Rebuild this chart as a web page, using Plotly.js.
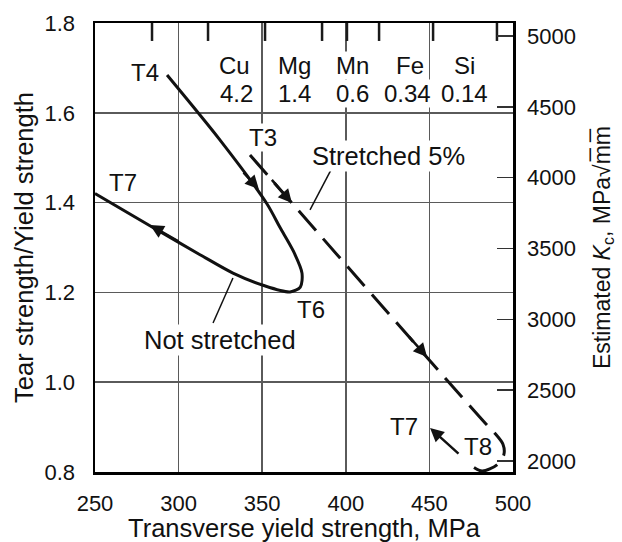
<!DOCTYPE html>
<html>
<head>
<meta charset="utf-8">
<script src="https://cdn.plot.ly/plotly-3.0.1.min.js"></script>
<style>html,body{margin:0;padding:0;background:#fff;}#chart{width:622px;height:542px;}</style>
</head>
<body>
<div id="chart"></div>
<script>
// ---- data ----
// Not stretched path: T4 -> loop (T6) -> T7
const notStretchedX = [293.1, 324.8, 352.9, 360.6, 368.5, 373.8, 372.8, 366.6, 350.5, 332.5, 312.8, 287.7, 250.0];
const notStretchedY = [1.684, 1.539, 1.397, 1.345, 1.293, 1.243, 1.212, 1.201, 1.216, 1.243, 1.284, 1.338, 1.420];
// Stretched 5% path: T3 -> T8
const stretchedX = [342.7, 483.3, 489.0, 494.0, 494.5, 490.4, 481.5, 474.3];
const stretchedY = [1.506, 0.909, 0.887, 0.862, 0.838, 0.816, 0.802, 0.816];
// T8 -> T7 (stretched, aged further)
const t8t7Tail = [468.3, 0.838];
const t8t7Tip = [450.4, 0.898];
// leader lines for labels
const leaderX = [391.7, 378.6, null, 320.6, 332.5];
const leaderY = [1.477, 1.384, null, 1.132, 1.232];
// direction arrows [tailX, tailY, tipX, tipY]
const arrowsNS = [[338.0, 1.470, 348.0, 1.430], [300.8, 1.312, 282.9, 1.350]];
const arrowsST = [[355.0, 1.454, 367.8, 1.399], [437.0, 1.105, 448.6, 1.056]];
// composition table
const elements = ['Cu', 'Mg', 'Mn', 'Fe', 'Si'];
const contents = ['4.2', '1.4', '0.6', '0.34', '0.14'];
const elemX = [333.7, 369.6, 404.3, 438.4, 470.7];
const contX = [334.9, 369.6, 404.3, 436.9, 471.0];
const elemY = 1.705, contY = 1.643;
// temper labels
const temperText = ['T4', 'T7', 'T3', 'T6', 'T7', 'T8'];
const temperX = [279.9, 266.7, 350.5, 379.2, 434.8, 479.1];
const temperY = [1.689, 1.444, 1.544, 1.163, 0.902, 0.856];
const temperBg = [false, false, true, false, false, false];
// axes
const xTicks = [250, 300, 350, 400, 450, 500];
const yTicks = [0.8, 1.0, 1.2, 1.4, 1.6, 1.8];
const kTicks = [2000, 2500, 3000, 3500, 4000, 4500, 5000];
const topTicks = [284.1, 317.6, 351.7, 385.8, 400.7, 419.9, 452.2, 490.4];
const topTickTop = 1.8, topTickBottom = 1.76;

const FONT = 'Liberation Sans, Arial, Helvetica, sans-serif';
const INK = '#111';

// short tick marks hanging from the top frame, built from topTicks
const topTickX = [], topTickY = [];
topTicks.forEach(v => { topTickX.push(v, v, null); topTickY.push(topTickTop, topTickBottom, null); });

const traces = [
  {x: notStretchedX, y: notStretchedY, mode: 'lines', line: {color: INK, width: 3, shape: 'spline', smoothing: 0.8}, hoverinfo: 'skip'},
  {x: stretchedX, y: stretchedY, mode: 'lines', line: {color: INK, width: 3, dash: '26px,11px', shape: 'spline', smoothing: 0.8}, hoverinfo: 'skip'},
  {x: leaderX, y: leaderY, mode: 'lines', line: {color: INK, width: 1.5}, hoverinfo: 'skip', connectgaps: false},
  {x: topTickX, y: topTickY, mode: 'lines', line: {color: '#1a1a1a', width: 2.5}, hoverinfo: 'skip', connectgaps: false},
  {x: [null], y: [null], yaxis: 'y2', mode: 'lines', hoverinfo: 'skip'}
];

const annotations = [];
const tblFont = {family: FONT, size: 24, color: INK};
const lblFont = {family: FONT, size: 24, color: INK};
const curveFont = {family: FONT, size: 25.5, color: INK};
elements.forEach((e, i) => {
  annotations.push({x: elemX[i], y: elemY, xref: 'x', yref: 'y', text: e, showarrow: false, font: tblFont, bgcolor: '#fff', borderpad: 0});
  annotations.push({x: contX[i], y: contY, xref: 'x', yref: 'y', text: contents[i], showarrow: false, font: tblFont, bgcolor: '#fff', borderpad: 0});
});
temperText.forEach((t, i) => {
  const a = {x: temperX[i], y: temperY[i], xref: 'x', yref: 'y', text: t, showarrow: false, font: lblFont, borderpad: 0};
  if (temperBg[i]) a.bgcolor = '#fff';
  annotations.push(a);
});
annotations.push({x: 425.8, y: 1.504, xref: 'x', yref: 'y', text: 'Stretched 5%', showarrow: false, font: curveFont, bgcolor: '#fff', borderpad: 1});
annotations.push({x: 324.8, y: 1.094, xref: 'x', yref: 'y', text: 'Not stretched', showarrow: false, font: curveFont, bgcolor: '#fff', borderpad: 1});
arrowsNS.concat(arrowsST).forEach(a => {
  annotations.push({x: a[2], y: a[3], ax: a[0], ay: a[1], xref: 'x', yref: 'y', axref: 'x', ayref: 'y', text: '', showarrow: true, arrowhead: 2, arrowsize: 1.1, arrowwidth: 2.5, arrowcolor: INK});
});
annotations.push({x: t8t7Tip[0], y: t8t7Tip[1], ax: t8t7Tail[0], ay: t8t7Tail[1], xref: 'x', yref: 'y', axref: 'x', ayref: 'y', text: '', showarrow: true, arrowhead: 2, arrowsize: 1.1, arrowwidth: 2.5, arrowcolor: INK});

const layout = {
  width: 622, height: 542,
  margin: {l: 95, r: 109, t: 23, b: 70},
  paper_bgcolor: '#fff', plot_bgcolor: '#fff',
  showlegend: false,
  font: {family: FONT, color: INK},
  xaxis: {
    range: [250, 500], tickvals: xTicks, ticktext: xTicks.map(String),
    showgrid: true, gridcolor: '#5a5a5a', gridwidth: 1.5, zeroline: false,
    showline: true, linecolor: '#000', linewidth: 2.5, mirror: true,
    ticks: '', ticklabelstandoff: 10, tickfont: {size: 22, family: FONT, color: INK},
    title: {text: 'Transverse yield strength, MPa', font: {size: 25.5, family: FONT, color: INK}, standoff: 6}
  },
  yaxis: {
    range: [0.8, 1.8], tickvals: yTicks, ticktext: yTicks.map(v => v.toFixed(1)),
    showgrid: true, gridcolor: '#5a5a5a', gridwidth: 1.5, zeroline: false,
    showline: true, linecolor: '#000', linewidth: 2.5, mirror: true,
    ticks: '', ticklabelstandoff: 13, tickfont: {size: 22, family: FONT, color: INK},
    title: {text: 'Tear strength/Yield strength', font: {size: 25.5, family: FONT, color: INK}, standoff: 4}
  },
  yaxis2: {
    overlaying: 'y', side: 'right', anchor: 'x', range: [1922, 5092],
    tickvals: kTicks, ticktext: kTicks.map(String),
    ticks: 'inside', ticklen: 16, tickwidth: 1.5, tickcolor: '#333',
    showgrid: false, zeroline: false, showline: false,
    ticklabelstandoff: 13, tickfont: {size: 22, family: FONT, color: INK},
    title: {text: 'Estimated <i>K</i><sub>c</sub>, MPa\u221Am\u0305m\u0305', font: {size: 23, family: FONT, color: INK}, standoff: 18}
  },
  annotations: annotations
};

Plotly.newPlot('chart', traces, layout, {staticPlot: true, displayModeBar: false});
</script>
</body>
</html>
